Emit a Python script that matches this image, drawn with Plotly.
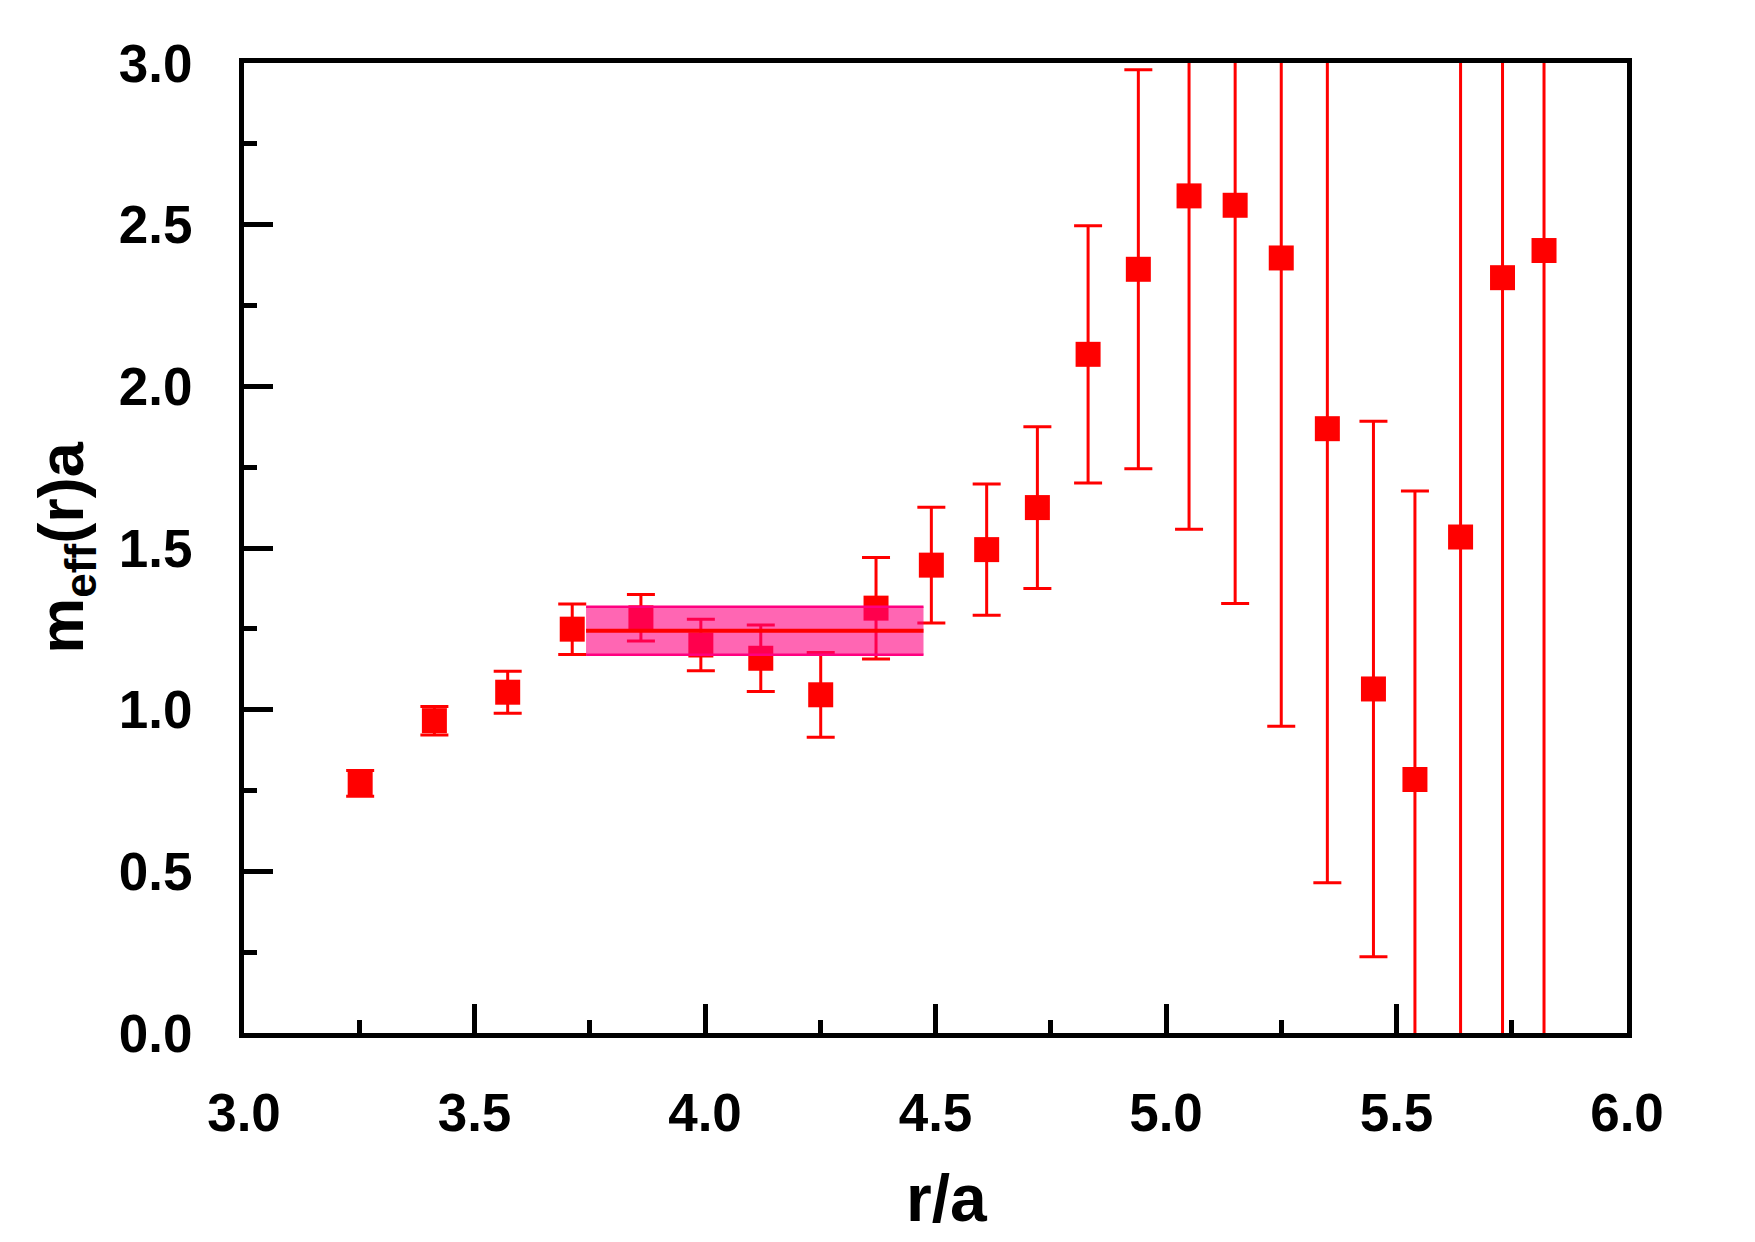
import plotly.graph_objects as go

# ---- data ----
r_over_a = [3.252, 3.413, 3.572, 3.712, 3.861, 3.991, 4.121, 4.251, 4.371, 4.491,
            4.611, 4.721, 4.831, 4.940, 5.050, 5.150, 5.250, 5.350, 5.450, 5.540,
            5.639, 5.730, 5.820]
m_eff = [0.772, 0.966, 1.054, 1.249, 1.284, 1.200, 1.159, 1.046, 1.314, 1.447,
         1.495, 1.625, 2.099, 2.362, 2.589, 2.560, 2.397, 1.869, 1.064, 0.784,
         1.534, 2.336, 2.420]
m_err = [0.040, 0.044, 0.065, 0.078, 0.072, 0.080, 0.103, 0.131, 0.157, 0.179,
         0.203, 0.250, 0.398, 0.617, 1.031, 1.232, 1.448, 1.404, 0.828, 0.892,
         2.000, 2.600, 2.700]

fit_range = [3.742, 4.474]
fit_value = 1.244
fit_error = 0.0745

x_ticks = [3.0, 3.5, 4.0, 4.5, 5.0, 5.5, 6.0]
y_ticks = [0.0, 0.5, 1.0, 1.5, 2.0, 2.5, 3.0]

x_title = "r/a"
y_title = "m<sub>eff</sub>(r)a"

RED = "#FF0000"
FONT = "Liberation Sans, Arial, Helvetica, sans-serif"

fig = go.Figure()

# data points with error bars
fig.add_trace(go.Scatter(
    x=r_over_a, y=m_eff, mode="markers",
    marker=dict(symbol="square", size=25, color=RED, line=dict(width=0)),
    error_y=dict(type="data", array=m_err, visible=True, color=RED,
                 thickness=3, width=14),
    showlegend=False, hoverinfo="x+y",
))

# fit band (semi-transparent, on top of points)
lo = fit_value - fit_error
hi = fit_value + fit_error
fig.add_trace(go.Scatter(
    x=[fit_range[0], fit_range[1], fit_range[1], fit_range[0], fit_range[0]],
    y=[lo, lo, hi, hi, lo],
    mode="lines", fill="toself",
    fillcolor="rgba(255,0,128,0.6)",
    line=dict(color="rgba(255,0,128,0)", width=0),
    showlegend=False, hoverinfo="skip",
))
# band edges
for yy in (lo, hi):
    fig.add_trace(go.Scatter(
        x=fit_range, y=[yy, yy], mode="lines",
        line=dict(color="#FF0080", width=2.5),
        showlegend=False, hoverinfo="skip",
    ))
# central fit value
fig.add_trace(go.Scatter(
    x=fit_range, y=[fit_value, fit_value], mode="lines",
    line=dict(color=RED, width=4),
    showlegend=False, hoverinfo="skip",
))

axis_common = dict(
    showgrid=False, zeroline=False, automargin=False,
    showline=True, linecolor="black", linewidth=5, mirror=True,
    ticks="inside", tickcolor="black", tickwidth=5,
    tickfont=dict(family=FONT, size=53, color="black", weight="bold"),
    tickformat=".1f",
)

fig.update_layout(
    width=1755, height=1242,
    margin=dict(l=244, r=128, t=63, b=209),
    paper_bgcolor="white", plot_bgcolor="white",
    xaxis=dict(
        range=[3.0, 6.0], tickvals=x_ticks, ticklen=29,
        minor=dict(dtick=0.25, tick0=3.0, ticks="inside", ticklen=13,
                   tickwidth=5, tickcolor="black"),
        ticklabelstandoff=29,
        **axis_common,
    ),
    yaxis=dict(
        range=[0.0, 3.0], tickvals=y_ticks, ticklen=29,
        minor=dict(dtick=0.25, tick0=0.0, ticks="inside", ticklen=13,
                   tickwidth=5, tickcolor="black"),
        ticklabelstandoff=36,
        title=dict(text=y_title, standoff=16,
                   font=dict(family=FONT, size=63, color="black", weight="bold")),
        **axis_common,
    ),
    annotations=[dict(
        text=x_title, xref="paper", yref="paper", x=0.5083, y=-0.170,
        xanchor="center", yanchor="middle", showarrow=False,
        font=dict(family=FONT, size=66, color="black", weight="bold"),
    )],
)

fig.write_html("out.html")
